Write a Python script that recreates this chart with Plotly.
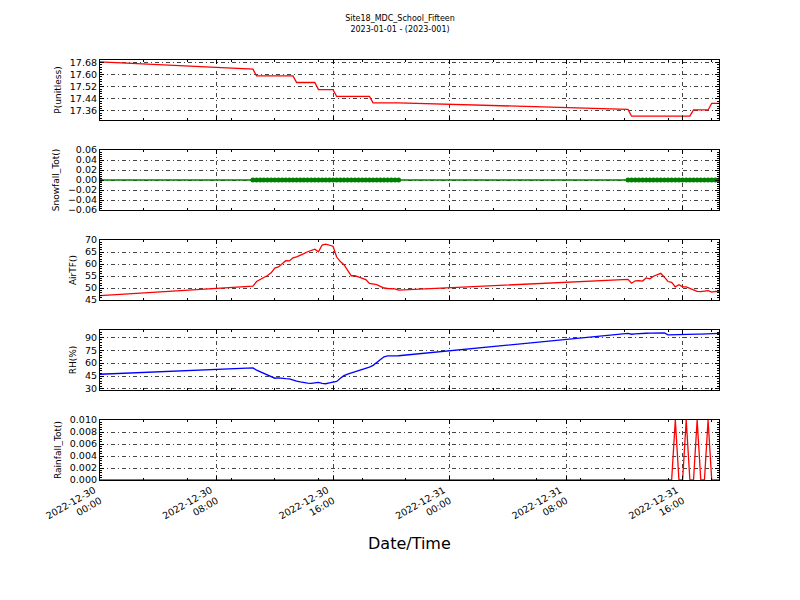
import pandas as pd
import plotly.graph_objects as go
from plotly.subplots import make_subplots

# sample times: one early reading, then two 15-minute logging blocks
times = (
    [pd.Timestamp("2022-12-30 00:00")]
    + list(pd.date_range("2022-12-30 10:30", "2022-12-30 20:30", freq="15min"))
    + list(pd.date_range("2022-12-31 12:15", "2022-12-31 18:30", freq="15min"))
)

pressure = [
    17.683,
    17.635, 17.59, 17.59, 17.59, 17.59, 17.59, 17.59, 17.59, 17.59, 17.59,
    17.59, 17.59, 17.547, 17.547, 17.547, 17.547, 17.547, 17.547, 17.50, 17.50,
    17.50, 17.50, 17.50, 17.455, 17.455, 17.455, 17.455, 17.455, 17.455, 17.455,
    17.455, 17.455, 17.455, 17.413, 17.413, 17.413, 17.413, 17.413, 17.413, 17.413,
    17.413,
    17.37, 17.325, 17.325, 17.325, 17.325, 17.325, 17.325, 17.325, 17.325, 17.325,
    17.325, 17.325, 17.325, 17.325, 17.325, 17.325, 17.325, 17.325, 17.366, 17.366,
    17.366, 17.366, 17.366, 17.41, 17.41, 17.41,
]

snowfall = [
    0.0,
    0.0, 0.0, 0.0, 0.0, 0.0, 0.0, 0.0, 0.0, 0.0, 0.0,
    0.0, 0.0, 0.0, 0.0, 0.0, 0.0, 0.0, 0.0, 0.0, 0.0,
    0.0, 0.0, 0.0, 0.0, 0.0, 0.0, 0.0, 0.0, 0.0, 0.0,
    0.0, 0.0, 0.0, 0.0, 0.0, 0.0, 0.0, 0.0, 0.0, 0.0,
    0.0,
    0.0, 0.0, 0.0, 0.0, 0.0, 0.0, 0.0, 0.0, 0.0, 0.0,
    0.0, 0.0, 0.0, 0.0, 0.0, 0.0, 0.0, 0.0, 0.0, 0.0,
    0.0, 0.0, 0.0, 0.0, 0.0, 0.0,
]

air_temp = [
    46.8,
    50.8, 52.7, 53.5, 54.3, 55.2, 56.3, 58.3, 58.8, 60.0, 61.4,
    61.3, 62.6, 63.0, 63.5, 64.3, 65.1, 65.8, 66.2, 65.1, 67.9,
    68.3, 68.0, 67.4, 62.9, 61.0, 59.7, 57.3, 55.1, 55.1, 54.6,
    54.1, 53.5, 51.9, 51.7, 51.4, 50.7, 50.0, 49.8, 49.7, 49.6,
    49.1,
    53.6, 52.0, 53.0, 53.1, 52.9, 54.2, 53.8, 54.9, 55.6, 56.1,
    54.5, 52.7, 52.4, 50.5, 51.4, 50.5, 50.5, 49.9, 49.2, 48.6,
    48.5, 48.6, 48.9, 48.3, 48.6, 48.5,
]

rel_hum = [
    47.1,
    54.5, 51.8, 50.0, 48.4, 47.0, 45.1, 42.5, 43.0, 42.3, 42.0,
    41.8, 40.0, 39.1, 38.3, 37.4, 36.9, 36.6, 37.3, 37.6, 36.5,
    36.1, 37.0, 37.8, 38.8, 42.4, 45.5, 47.3, 48.7, 49.8, 50.9,
    52.2, 53.5, 55.4, 57.4, 60.4, 63.6, 67.3, 68.4, 68.5, 68.5,
    68.6,
    94.6, 93.6, 94.0, 94.5, 94.6, 94.7, 94.8, 94.9, 95.0, 95.2,
    95.0, 92.8, 93.0, 93.2, 93.3, 93.4, 93.5, 93.5, 93.6, 93.6,
    93.7, 93.8, 93.9, 94.0, 94.2, 94.5,
]

rainfall = [
    0.0,
    0.0, 0.0, 0.0, 0.0, 0.0, 0.0, 0.0, 0.0, 0.0, 0.0,
    0.0, 0.0, 0.0, 0.0, 0.0, 0.0, 0.0, 0.0, 0.0, 0.0,
    0.0, 0.0, 0.0, 0.0, 0.0, 0.0, 0.0, 0.0, 0.0, 0.0,
    0.0, 0.0, 0.0, 0.0, 0.0, 0.0, 0.0, 0.0, 0.0, 0.0,
    0.0,
    0.0, 0.0, 0.0, 0.0, 0.0, 0.0, 0.0, 0.0, 0.0, 0.0,
    0.0, 0.0, 0.0, 0.01, 0.0, 0.0, 0.01, 0.0, 0.0, 0.01,
    0.0, 0.0, 0.01, 0.0, 0.0, 0.0,
]

FONT = "DejaVu Sans"
GRID = "#444"
GRIDDASH = "4px,3px,1px,3px"

panels = [
    # (values, label, color, range, dtick, tickformat, minor dtick)
    (pressure, "P(unitless)", "#ff0000", [17.30, 17.695], 0.08, ".2f", 0.016),
    (snowfall, "Snowfall_Tot()", "#008000", [-0.06, 0.06], 0.02, ".2f", 0.004),
    (air_temp, "AirTF()", "#ff0000", [45, 70], 5, "d", 1),
    (rel_hum, "RH(%)", "#0000ff", [28.8, 98.5], 15, "d", 3),
    (rainfall, "Rainfall_Tot()", "#ff0000", [0, 0.010], 0.002, ".3f", 0.0004),
]

fig = make_subplots(rows=5, cols=1, shared_xaxes=True, vertical_spacing=30 / 420)

for row, (vals, label, color, yrange, dtick, fmt, minor) in enumerate(panels, start=1):
    is_snow = label.startswith("Snowfall")
    fig.add_trace(
        go.Scatter(
            x=times,
            y=vals,
            mode="lines+markers" if is_snow else "lines",
            line={"color": color, "width": 1.3},
            marker={"color": color, "size": 5},
            showlegend=False,
        ),
        row=row,
        col=1,
    )
    fig.update_yaxes(
        row=row,
        col=1,
        range=yrange,
        tick0=30 if label.startswith("RH") else 0,
        dtick=dtick,
        tickformat=fmt,
        title={"text": label, "font": {"size": 9, "family": FONT}, "standoff": 6},
        tickfont={"size": 9.5, "family": FONT, "color": "black"},
        automargin=False,
        showline=True,
        linecolor="black",
        linewidth=1.2,
        mirror="allticks",
        ticks="inside",
        ticklen=4,
        tickcolor="black",
        showgrid=True,
        gridcolor=GRID,
        gridwidth=0.6,
        griddash=GRIDDASH,
        zeroline=False,
        minor={"dtick": minor, "ticks": "inside", "ticklen": 2, "tickcolor": "black",
               "showgrid": False},
    )

fig.update_xaxes(
    range=[times[0], times[-1]],
    tick0="2022-12-30 00:00",
    dtick=8 * 3600 * 1000,
    tickformat="%Y-%m-%d<br>%H:%M",
    tickangle=-30,
    ticklabelshift=-6,
    tickfont={"size": 9.5, "family": FONT, "color": "black"},
    automargin=False,
    showline=True,
    linecolor="black",
    linewidth=1.2,
    mirror="allticks",
    ticks="inside",
    ticklen=4,
    tickcolor="black",
    showgrid=True,
    gridcolor=GRID,
    gridwidth=0.6,
    griddash=GRIDDASH,
    zeroline=False,
    minor={"dtick": 3 * 3600 * 1000, "ticks": "inside", "ticklen": 2,
           "tickcolor": "black", "showgrid": False},
)

fig.add_annotation(
    text="Date/Time",
    xref="paper",
    yref="paper",
    x=0.5,
    y=-0.152,
    yanchor="middle",
    showarrow=False,
    font={"size": 16, "family": FONT, "color": "black"},
)

# the page body adds an 8px offset, so margins are shifted to compensate
fig.update_layout(
    width=800,
    height=600,
    margin={"l": 92, "r": 89, "t": 52, "b": 128, "autoexpand": False},
    paper_bgcolor="white",
    plot_bgcolor="white",
    font={"family": FONT, "color": "black"},
    title={
        "text": "Site18_MDC_School_Fifteen<br>2023-01-01 - (2023-001)",
        "x": 0.49,
        "xref": "container",
        "y": 0.978,
        "yref": "container",
        "yanchor": "top",
        "font": {"size": 8, "family": FONT, "color": "black"},
    },
)

fig.write_html("out.html")
